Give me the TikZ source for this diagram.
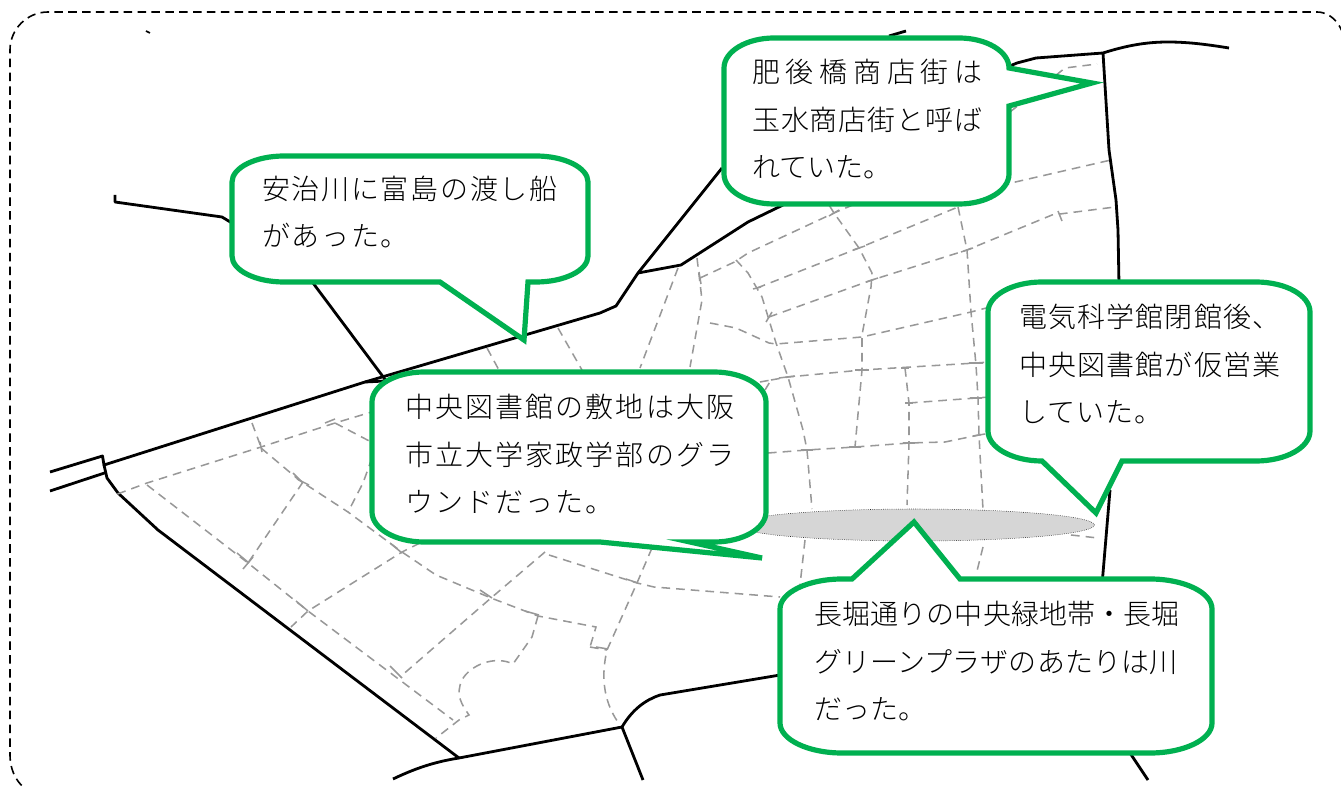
\documentclass[tikz,border=0pt]{standalone}
\usepackage{fontspec}
\usetikzlibrary{shapes.geometric,calc}
\newfontfamily\cjk{Noto Sans CJK JP Light}
\definecolor{cgreen}{HTML}{00B050}
\definecolor{rgray}{HTML}{989898}
\newcommand{\ls}[2]{{\addfontfeature{LetterSpace=#1}#2}}
\newcommand{\cor}[3]{-- (#1) .. controls ($(#1)!.55!(#2)$) and ($(#3)!.55!(#2)$) .. (#3)}
\tikzset{
 road/.style={draw=black,line width=2.1pt,line join=round},
 lane/.style={draw=rgray,line width=1.15pt,dash pattern=on 6.5pt off 4.5pt},
 tickmark/.style={draw=rgray,line width=1.15pt},
 callout/.style={draw=cgreen,line width=3.9pt,fill=white,line join=miter,miter limit=10},
 calltext/.style={anchor=north west,inner sep=0pt,align=left,text=black,font=\cjk\fontsize{21}{35.7}\selectfont},
}
\begin{document}
\begin{tikzpicture}[x=0.75pt,y=-0.75pt]
\useasboundingbox (0,0) rectangle (1341,787);
\clip (0,0) rectangle (1341,787);
% outer frame
\draw[black,line width=1.2pt,dash pattern=on 6.4pt off 4pt]
  (10,400) \cor{10,50}{10,12}{48,12} \cor{1317,12}{1345,12}{1345,47} -- (1345,793) -- (40,793) .. controls (22,793) and (10,775) .. (10,755) -- cycle;
% tiny mark
\draw[black,line width=1.2pt] (146,31) -- (150,33);
% roads
\draw[road] (115,195) -- (115,202) -- (222,217) -- (260,240) -- (313,283) -- (387,382);
\draw[road] (50,472) -- (102.5,456) -- (104,465) -- (365,382) -- (385,381);
\draw[road] (50,491) -- (106,472.5);
\draw[road] (104,465) -- (107,478) -- (118,493) -- (158,530) -- (459,758);
\draw[road] (393,779) .. controls (420,766) and (440,761) .. (459,758) -- (622,727) -- (643,780);
\draw[road] (622,727) .. controls (632,710) and (645,700) .. (660,695) -- (780,675);
\draw[road] (365,382) -- (600,313) -- (616,306) -- (638,273) -- (722,168);
\draw[road] (638,273) -- (681,265) -- (748,222) -- (783,205);
\draw[road] (889,36) -- (906,31);
\draw[road] (1000,70) -- (1017,63) -- (1036,58) -- (1103,53) .. controls (1125,46) and (1145,42) .. (1168,42) .. controls (1190,42) and (1210,45) .. (1229,48);
\draw[road] (1103,53) -- (1109,150) -- (1116,200) -- (1118,230) -- (1119,285);
\draw[road] (1110,490) -- (1102,585);
\draw[road] (1130,753) -- (1148,780);
% lanes
\draw[lane] (252,423) -- (261,447);
\draw[lane] (117.5,494) -- (147,483) -- (261,447) -- (335,423) -- (375,411);
\draw[lane] (147,485) -- (248,563) -- (308,611) -- (453,720);
\draw[lane] (261,448) -- (299,480) -- (348,512) -- (402,552) -- (436,575) -- (491,598) -- (538,616) -- (596,627) -- (590,647);
\draw[lane] (590,647) -- (607,650);
\draw[lane] (303,482) -- (248,563);
\draw[lane] (335,423) -- (375,444);
\draw[lane] (372,458) -- (363,483) -- (348,512);
\draw[lane] (420,543) -- (402,552) -- (308,611) -- (291,627);
\draw[lane] (545,552) -- (491,598) -- (400,677);
\draw[lane] (538,616) -- (532,637) -- (513,664) .. controls (495,655) and (470,665) .. (462,680) .. controls (455,695) and (462,705) .. (469,715) -- (459,720) -- (436,738);
\draw[lane] (652,548) -- (637,583) -- (607,650) .. controls (600,680) and (605,705) .. (620,725);
\draw[lane] (549,555) -- (637,583) -- (654,587) -- (780,597);
\draw[lane] (678,268) -- (640,368);
\draw[lane] (697,258) -- (702,300) -- (690,367);
\draw[lane] (700,278) -- (734.5,262) -- (748,253) -- (834,213) -- (855,204);
\draw[lane] (736,260) -- (748,273) -- (762,297) -- (776,343) -- (788,377) -- (803,430) -- (807,450) -- (812,509);
\draw[lane] (757,288) -- (859,248) -- (958,207) -- (1011,183) -- (1111,160);
\draw[lane] (769,317) -- (872,280) -- (967,250) -- (1052,215) -- (1115,207);
\draw[lane] (829,205) -- (834,213) -- (859,248) -- (872,273) -- (871,287) -- (862,335) -- (862,370) -- (855,447);
\draw[lane] (958,207) -- (967,250) -- (971,312) -- (976,365) -- (978,398) -- (979,435) -- (983,510);
\draw[lane] (710,323) -- (736,328) -- (769,343) -- (776,344) -- (862,337) -- (971,312) -- (990,307);
\draw[lane] (771,380) -- (788,377) -- (862,370) -- (976,363) -- (990,362);
\draw[lane] (760,382) -- (771,380) -- (765,390);
\draw[lane] (905,368) -- (909,403) -- (909,443) -- (907,505);
\draw[lane] (909,403) -- (976,398) -- (990,397);
\draw[lane] (768,453) -- (807,450) -- (855,447) -- (909,443) -- (945,442) -- (979,435) -- (990,433);
\draw[lane] (805,540) -- (800,585);
\draw[lane] (983,547) -- (976,575);
\draw[lane] (1071,535) -- (1098,538);
\draw[lane] (1010,112) -- (1065,68) -- (1097,64);
\draw[lane] (487,348) -- (500,372);
\draw[lane] (558,328) -- (582,370);
% junction ticks
\foreach \px/\py/\dx/\dy in {243/558/6/5, 298/478/5/5, 302/606/6/5, 396/672/6/6, 396/548/6/5, 486/594/6/4, 532/613/7/2, 632/581/6/2, 602/648/6/1,
 330/421/5/-2, 248/563/-5/6, 303/482/6/3, 261/447/1/5, 787/377/8/-1, 862/370/7/0, 976/363/7/0, 976/398/6/0, 909/443/6/0, 807/450/6/0, 979/435/6/-1,
 967/250/6/-2, 859/248/6/-2, 872/280/6/-2, 834/213/5/-3, 1060/216/2/5, 855/447/6/0, 909/403/4/0, 905/368/4/0, 757/288/4/-1, 769/317/3/-5, 700/278/1/6} {
  \draw[tickmark] ({\px-\dx},{\py-\dy}) -- ({\px+\dx},{\py+\dy});
}
% ellipse
\node[ellipse,draw=black,densely dotted,line width=.4pt,fill=gray!32,minimum width=269pt,minimum height=24pt,inner sep=0pt] (band) at (915,525) {};
% callouts
\path[callout] (528,282) \cor{536,282}{588,282}{588,256} \cor{588,182}{588,156}{536,156} \cor{284,156}{232,156}{232,182} \cor{232,256}{232,282}{284,282} -- (440,282) -- (524,340) -- cycle;
\path[callout] (1009,106) \cor{1009,174}{1009,204}{959,204} \cor{774,204}{724,204}{724,174} \cor{724,68}{724,38}{774,38} \cor{959,38}{1009,38}{1009,68} -- (1092,83) -- cycle;
\path[callout] (690,542) \cor{714,542}{766,542}{766,512} \cor{766,402}{766,372}{714,372} \cor{424,372}{372,372}{372,402} \cor{372,512}{372,542}{424,542} -- (600,542) -- (762,558) -- cycle;
\path[callout] (1122,461) \cor{1256,461}{1310,461}{1310,431} \cor{1310,312}{1310,282}{1256,282} \cor{1042,282}{988,282}{988,312} \cor{988,431}{988,461}{1042,461} -- (1096,513) -- cycle;
\path[callout] (852,579) \cor{842,579}{780,579}{780,609} \cor{780,723}{780,753}{842,753} \cor{1150,753}{1212,753}{1212,723} \cor{1212,609}{1212,579}{1150,579} -- (960,579) -- (914,522) -- cycle;
% texts
\node[calltext] (t1) at (262,175.5) {\ls{6}{安治川に富島の渡し船}\\\ls{6}{があった。}};
\node[calltext] (t2) at (752,59) {\ls{20.5}{肥後橋商店街は}\\\ls{3}{玉水商店街と呼ば}\\れていた。};
\node[calltext] (t3) at (405,394) {\ls{7.5}{中央図書館の敷地は大阪}\\\ls{7.5}{市立大学家政学部のグラ}\\\ls{7.5}{ウンドだった。}};
\node[calltext] (t4) at (1019,304) {\ls{4}{電気科学館閉館後、}\\\ls{4}{中央図書館が仮営業}\\\ls{4}{していた。}};
\node[calltext] (t5) at (814,601) {\ls{.5}{長堀通りの中央緑地帯・長堀}\\\ls{.5}{グリーンプラザのあたりは川}\\\ls{.5}{だった。}};
\end{tikzpicture}
\end{document}
